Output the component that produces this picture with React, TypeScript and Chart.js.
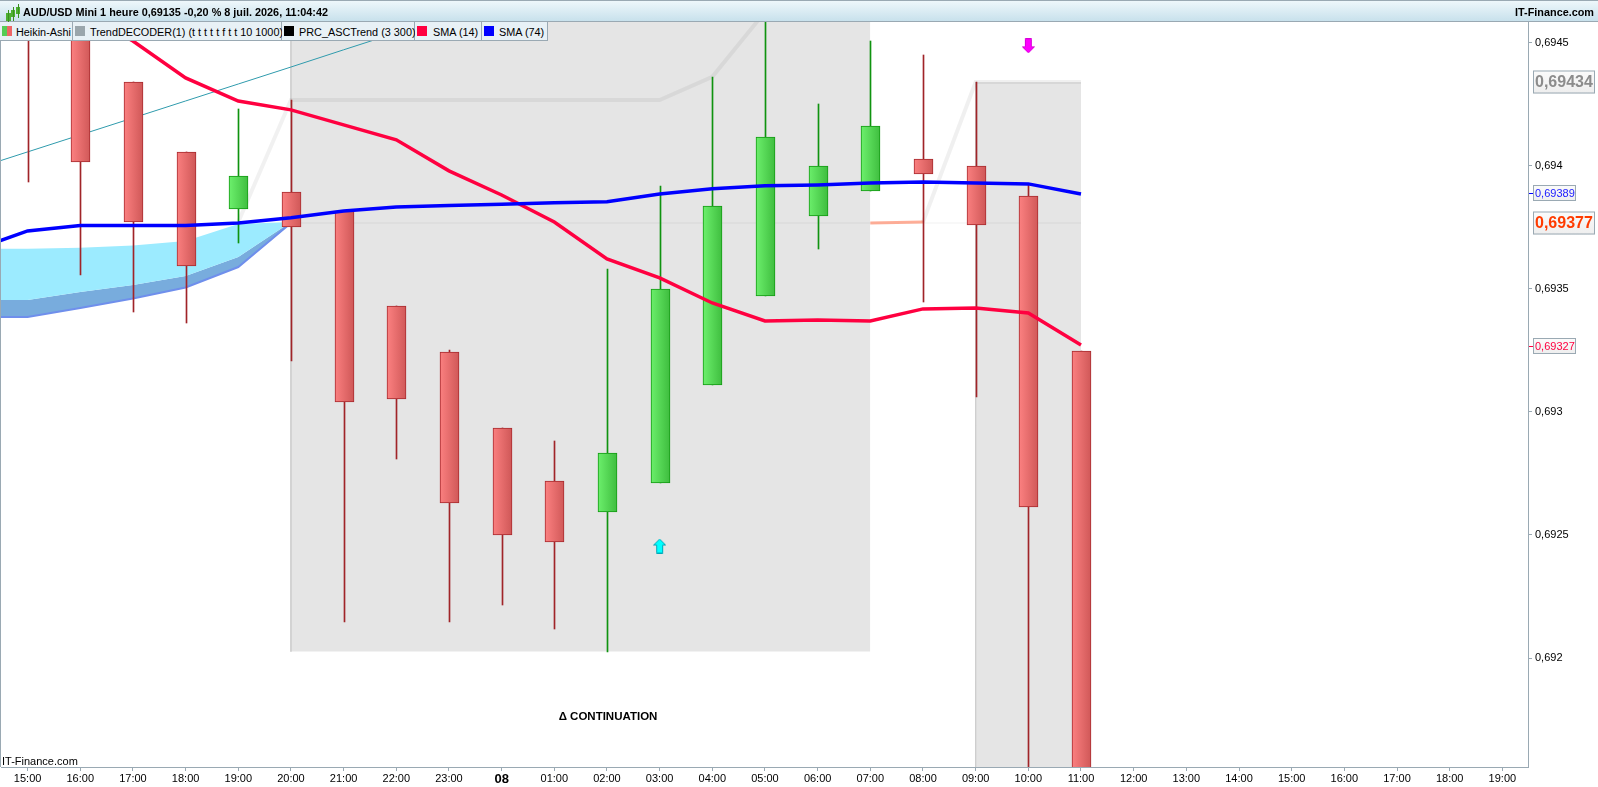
import React, { useEffect, useRef } from "react";
import { Chart, registerables } from "chart.js";

Chart.register(...registerables);

const FONT = '"Liberation Sans", Arial, sans-serif';

const timeLabels = ["15:00","16:00","17:00","18:00","19:00","20:00","21:00","22:00","23:00","08","01:00","02:00","03:00","04:00","05:00","06:00","07:00","08:00","09:00","10:00","11:00","12:00","13:00","14:00","15:00","16:00","17:00","18:00","19:00"];
const dayIndex = 9;
const priceTicks = [0.692, 0.6925, 0.693, 0.6935, 0.694, 0.6945];

const opens = [0.6948, 0.6948, 0.694341, 0.694057, 0.693825, 0.693894, 0.693817, 0.693431, 0.693244, 0.692935, 0.69272, 0.692594, 0.692711, 0.69311, 0.693472, 0.693797, 0.693898, 0.694028, 0.694, 0.693878, 0.693248];
const closes = [0.69465, 0.694016, 0.693772, 0.693593, 0.693959, 0.693752, 0.693041, 0.693053, 0.69263, 0.6925, 0.692472, 0.692833, 0.6935, 0.693837, 0.694118, 0.694, 0.694163, 0.693967, 0.69376, 0.692614, 0.6914];
const highs = [0.6949, 0.6949, 0.694341, 0.694057, 0.694232, 0.694268, 0.693817, 0.693431, 0.693252, 0.692935, 0.692882, 0.693581, 0.693919, 0.694362, 0.6947, 0.694252, 0.694508, 0.694451, 0.694341, 0.693923, 0.693248];
const lows = [0.693935, 0.693557, 0.693407, 0.693362, 0.693687, 0.693207, 0.692146, 0.692809, 0.692146, 0.692215, 0.692118, 0.692024, 0.692711, 0.69311, 0.693472, 0.693663, 0.693898, 0.693447, 0.693061, 0.6914, 0.6914];

const sma14 = [0.694715, 0.694626, 0.694508, 0.694358, 0.694264, 0.694228, 0.694167, 0.694106, 0.69398, 0.693882, 0.693772, 0.693622, 0.693545, 0.693443, 0.69337, 0.693374, 0.69337, 0.693419, 0.693423, 0.693402, 0.693272];
const sma74FromMinus1 = [0.693659, 0.693736, 0.693758, 0.693758, 0.693758, 0.693768, 0.693789, 0.693817, 0.693833, 0.693839, 0.693844, 0.69385, 0.693854, 0.693886, 0.693907, 0.693919, 0.693923, 0.693931, 0.693935, 0.693931, 0.693927, 0.693886];

const cloudTop = [0.693663, 0.693663, 0.693667, 0.693677, 0.693695, 0.693764, 0.693772];
const cloudMid = [0.693455, 0.693455, 0.693488, 0.693516, 0.693553, 0.69363, 0.693772];
const cloudLow = [0.693386, 0.693386, 0.693423, 0.693461, 0.693506, 0.693589, 0.693768];

const teal = [0.693988, 0.694057, 0.694126, 0.694195, 0.694264, 0.694333, 0.694402, 0.694472, 0.694541];

const ascA = [0.693772, 0.694268, 0.694268, 0.694268, 0.694268, 0.694268, 0.694268, 0.694268, 0.694268, 0.694362, 0.694626];
const ascB = [0.693772, 0.694341, 0.694341, 0.694341];
const peach = [0.693768, 0.693772];
const lastLine = [0.693768, 0.693768];

const zoneA = { from: 5, to: 16, top: 0.6948, bottom: 0.692026 };
const zoneB = { from: 18, to: 20, top: 0.694341, bottom: 0.6914 };

const downArrowAt = { x: 19, y: 0.694488 };
const upArrowAt = { x: 12, y: 0.692455 };

const priceBoxes = [
  { value: 0.69434, text: "0,69434", color: "#8c8c8c", big: true, mark: "" },
  { value: 0.69389, text: "0,69389", color: "#1a1aff", big: false, mark: "#0000ff" },
  { value: 0.69377, text: "0,69377", color: "#ff3b00", big: true, mark: "" },
  { value: 0.69327, text: "0,69327", color: "#ff0040", big: false, mark: "#ff0040" },
];

const note = { x: 11.02, y: 0.69176, text: "Δ CONTINUATION" };

const titleText = "AUD/USD Mini 1 heure 0,69135 -0,20 % 8 juil. 2026, 11:04:42";
const legendItems = [
  { label: "Heikin-Ashi", left: 0, width: 72, text: 16, swatch: ["#55cc55", "#ee6666"] },
  { label: "TrendDECODER(1) (t t t t t f t t 10 1000)", left: 73, width: 208, text: 90, swatch: ["#9aa6ac", "#9aa6ac"] },
  { label: "PRC_ASCTrend (3 300)", left: 282, width: 132, text: 299, swatch: ["#000000", "#000000"] },
  { label: "SMA (14)", left: 415, width: 66, text: 433, swatch: ["#ff0040", "#ff0040"] },
  { label: "SMA (74)", left: 482, width: 65, text: 499, swatch: ["#0000ff", "#0000ff"] },
];

const from = (values: number[], start: number) => values.map((y, i) => ({ x: start + i, y }));

function arrowImage(down: boolean, fill: string, stroke: string) {
  const c = document.createElement("canvas");
  c.width = 13;
  c.height = 15;
  const g = c.getContext("2d")!;
  g.translate(0.5, 0.5);
  if (down) {
    g.translate(0, 14);
    g.scale(1, -1);
  }
  g.beginPath();
  g.moveTo(6, 0);
  g.lineTo(12, 6);
  g.lineTo(9, 6);
  g.lineTo(9, 14);
  g.lineTo(3, 14);
  g.lineTo(3, 6);
  g.lineTo(0, 6);
  g.closePath();
  g.fillStyle = fill;
  g.fill();
  g.strokeStyle = stroke;
  g.lineWidth = 1;
  g.stroke();
  return c;
}

function candleFill(ctx: any) {
  const i = ctx.dataIndex;
  const up = closes[i] > opens[i];
  const light = up ? "#6cef6c" : "#fb8080";
  const dark = up ? "#41c041" : "#d25a5a";
  const sx = ctx.chart.scales?.x;
  if (!sx) return light;
  const px = sx.getPixelForValue(i);
  if (!isFinite(px)) return light;
  const gr = ctx.chart.ctx.createLinearGradient(px - 9, 0, px + 9, 0);
  gr.addColorStop(0, light);
  gr.addColorStop(1, dark);
  return gr;
}

const snapBars = {
  id: "snapBars",
  afterDatasetsUpdate(chart: any) {
    chart.data.datasets.forEach((d: any, i: number) => {
      if (d.type !== "bar") return;
      chart.getDatasetMeta(i).data.forEach((el: any) => {
        el.x = Math.round(el.x) + 0.5;
        el.y = Math.round(el.y);
        el.base = Math.round(el.base);
      });
    });
  },
};

const overlay = {
  id: "overlay",
  afterDraw(chart: any) {
    const { ctx, scales, chartArea } = chart;
    const yS = scales.y;
    const xS = scales.x;
    ctx.save();
    ctx.textBaseline = "middle";
    ctx.textAlign = "left";
    ctx.fillStyle = "#000";
    ctx.font = `11px ${FONT}`;
    ctx.fillText("IT-Finance.com", 2, chartArea.bottom - 5);
    ctx.font = `bold 11.5px ${FONT}`;
    ctx.textAlign = "center";
    ctx.fillText(note.text, xS.getPixelForValue(note.x), yS.getPixelForValue(note.y));
    ctx.textAlign = "left";
    for (const b of priceBoxes) {
      const py = Math.round(yS.getPixelForValue(b.value));
      const left = chartArea.right + 5;
      const w = b.big ? 62 : 43;
      const h = b.big ? 23 : 16;
      const grad = ctx.createLinearGradient(0, py - h / 2, 0, py + h / 2);
      grad.addColorStop(0, "#fbfbfb");
      grad.addColorStop(1, "#eeeeee");
      ctx.fillStyle = grad;
      ctx.fillRect(left, py - h / 2, w, h);
      ctx.strokeStyle = "#9aa9b3";
      ctx.lineWidth = 1;
      ctx.strokeRect(left + 0.5, py - h / 2 + 0.5, w - 1, h - 1);
      if (b.mark) {
        ctx.strokeStyle = b.mark;
        ctx.beginPath();
        ctx.moveTo(chartArea.right + 1, py + 0.5);
        ctx.lineTo(chartArea.right + 5, py + 0.5);
        ctx.stroke();
      }
      ctx.fillStyle = b.color;
      ctx.font = b.big ? `bold 16px ${FONT}` : `11px ${FONT}`;
      ctx.fillText(b.text, left + 2, py + 1);
    }
    ctx.restore();
  },
};

export default function App() {
  const ref = useRef<HTMLCanvasElement>(null);

  useEffect(() => {
    document.body.style.margin = "0";
    const zone = { type: "line", borderWidth: 0, pointRadius: 0, backgroundColor: "#e5e5e5", order: 20 };
    const thin = { type: "line", pointRadius: 0, tension: 0 };
    const datasets: any[] = [
      { ...zone, data: [{ x: zoneA.from, y: zoneA.top }, { x: zoneA.to, y: zoneA.top }], fill: "+1" },
      { ...zone, data: [{ x: zoneA.from, y: zoneA.bottom }, { x: zoneA.to, y: zoneA.bottom }], fill: false },
      { ...zone, data: [{ x: zoneB.from, y: zoneB.top }, { x: zoneB.to, y: zoneB.top }], fill: "+1" },
      { ...zone, data: [{ x: zoneB.from, y: zoneB.bottom }, { x: zoneB.to, y: zoneB.bottom }], fill: false },
      { ...thin, data: [{ x: zoneA.from, y: zoneA.top }, { x: zoneA.from, y: zoneA.bottom }], borderColor: "#cfcfcf", borderWidth: 1, order: 19 },
      { ...thin, data: [{ x: zoneB.from, y: zoneB.top }, { x: zoneB.from, y: zoneB.bottom }], borderColor: "#cfcfcf", borderWidth: 1, order: 19 },
      { ...thin, data: from(lastLine, 5).map((p, i) => ({ x: i === 0 ? 5 : 20, y: p.y })), borderColor: "rgba(0,0,0,0.06)", borderWidth: 1, order: 18 },
      { ...thin, data: from(ascA, 4), borderColor: "rgba(0,0,0,0.055)", borderWidth: 4, order: 17 },
      { ...thin, data: from(ascB, 17), borderColor: "rgba(0,0,0,0.06)", borderWidth: 4, order: 17 },
      { ...thin, data: from(peach, 16), borderColor: "rgba(255,110,70,0.55)", borderWidth: 3, order: 17 },
      { ...thin, data: from(teal, -1), borderColor: "#2f9bad", borderWidth: 1, order: 16 },
      { ...thin, data: from(cloudTop, -1), borderWidth: 0, backgroundColor: "#9cebff", fill: "+1", order: 15 },
      { ...thin, data: from(cloudMid, -1), borderWidth: 0, backgroundColor: "#78acdd", fill: "+1", order: 15 },
      { ...thin, data: from(cloudLow, -1), borderColor: "#6f8fec", borderWidth: 2, fill: false, order: 14 },
      {
        type: "bar",
        label: "wicks",
        data: highs.map((h, i) => ({ x: i, y: [lows[i], h] })),
        barThickness: 1,
        grouped: false,
        backgroundColor: (c: any) => (closes[c.dataIndex] > opens[c.dataIndex] ? "#0f930f" : "#a02428"),
        order: 6,
      },
      {
        type: "bar",
        label: "bodies",
        data: opens.map((o, i) => ({ x: i, y: [closes[i], o] })),
        barThickness: 19,
        grouped: false,
        borderSkipped: false,
        borderWidth: 1,
        backgroundColor: candleFill,
        borderColor: (c: any) => (closes[c.dataIndex] > opens[c.dataIndex] ? "#139a13" : "#a82a2e"),
        order: 5,
      },
      { ...thin, data: from(sma14, 0), borderColor: "#ff0040", borderWidth: 3.5, order: 3 },
      { ...thin, data: from(sma74FromMinus1, -1), borderColor: "#0000ff", borderWidth: 3.5, order: 2 },
      { type: "line", showLine: false, data: [downArrowAt], pointStyle: arrowImage(true, "#ff00ff", "#d800d8"), order: 1 },
      { type: "line", showLine: false, data: [upArrowAt], pointStyle: arrowImage(false, "#00ffff", "#00a8b8"), order: 1 },
    ];

    const chart = new Chart(ref.current!, {
      type: "bar",
      data: { datasets },
      plugins: [snapBars, overlay],
      options: {
        responsive: false,
        devicePixelRatio: 1,
        animation: false,
        events: [],
        layout: { autoPadding: false, padding: { left: 1, top: 22, right: 0, bottom: 0 } },
        plugins: { legend: { display: false }, tooltip: { enabled: false } },
        scales: {
          x: {
            type: "linear",
            offset: false,
            min: -0.505,
            max: 28.487,
            afterFit: (s: any) => { s.height = 20; s.paddingLeft = 0; s.paddingRight = 0; },
            afterBuildTicks: (s: any) => { s.ticks = timeLabels.map((_, i) => ({ value: i })); },
            border: { color: "#9aa9b3", width: 1 },
            grid: { offset: false, drawOnChartArea: false, drawTicks: true, tickLength: 4, tickColor: "#9aa9b3" },
            ticks: {
              autoSkip: false,
              maxRotation: 0,
              minRotation: 0,
              padding: 1,
              color: "#000",
              font: (c: any) => ({ family: FONT, size: c.index === dayIndex ? 13 : 11, weight: c.index === dayIndex ? "bold" : "normal" }),
              callback: (v: any) => timeLabels[v],
            },
          },
          y: {
            type: "linear",
            position: "right",
            min: 0.691557,
            max: 0.694585,
            afterFit: (s: any) => { s.width = 70; s.paddingTop = 0; s.paddingBottom = 0; },
            afterBuildTicks: (s: any) => { s.ticks = priceTicks.map((value) => ({ value })); },
            border: { color: "#9aa9b3", width: 1 },
            grid: { drawOnChartArea: false, drawTicks: true, tickLength: 4, tickColor: "#9aa9b3" },
            ticks: {
              padding: 3,
              color: "#000",
              font: { family: FONT, size: 11 },
              callback: (v: any) => String(v).replace(".", ","),
            },
          },
        },
      },
    } as any);
    return () => chart.destroy();
  }, []);

  return (
    <div style={{ position: "fixed", left: 0, top: 0, width: 1598, height: 787, background: "#fff", overflow: "hidden", fontFamily: FONT }}>
      <canvas ref={ref} width={1598} height={787} style={{ position: "absolute", left: 0, top: 0, width: 1598, height: 787 }} />
      <div style={{ position: "absolute", left: 0, top: 0, width: 1, height: 767, background: "#9aa9b3" }} />
      <div style={{ position: "absolute", left: 0, top: 0, width: 1598, height: 22, background: "linear-gradient(#eef7fb, #c8e1ec)", borderTop: "1px solid #9aa9b3", borderBottom: "1px solid #9aa9b3", boxSizing: "border-box" }}>
        {[[6, 10, 8, 5], [11, 7, 7, 4], [16, 4, 7, 4]].map(([l, t, h, w], i) => (
          <React.Fragment key={i}>
            <div style={{ position: "absolute", left: l, top: t + 2, width: w, height: h, background: "#4cb030" }} />
            <div style={{ position: "absolute", left: l + 2, top: t - 1, width: 1, height: h + 7, background: "#3a9020" }} />
          </React.Fragment>
        ))}
        <span style={{ position: "absolute", left: 23, top: 4, fontSize: 10.85, lineHeight: "14px", fontWeight: "bold", color: "#000", whiteSpace: "nowrap" }}>{titleText}</span>
        <span style={{ position: "absolute", right: 4, top: 4, fontSize: 10.85, lineHeight: "14px", fontWeight: "bold", color: "#000", whiteSpace: "nowrap" }}>IT-Finance.com</span>
      </div>
      {legendItems.map((it) => (
        <React.Fragment key={it.label}>
          <div style={{ position: "absolute", left: it.left, top: 22, width: it.width + 1, height: 19, background: "#e8f1f6", borderRight: "1px solid #9aa9b3", borderBottom: "1px solid #9aa9b3", boxSizing: "border-box" }} />
          <div style={{ position: "absolute", left: it.left + 2, top: 26, width: 5, height: 10, background: it.swatch[0] }} />
          <div style={{ position: "absolute", left: it.left + 7, top: 26, width: 5, height: 10, background: it.swatch[1] }} />
          <span style={{ position: "absolute", left: it.text, top: 25, fontSize: 10.85, lineHeight: "14px", color: "#000", whiteSpace: "nowrap" }}>{it.label}</span>
        </React.Fragment>
      ))}
    </div>
  );
}
